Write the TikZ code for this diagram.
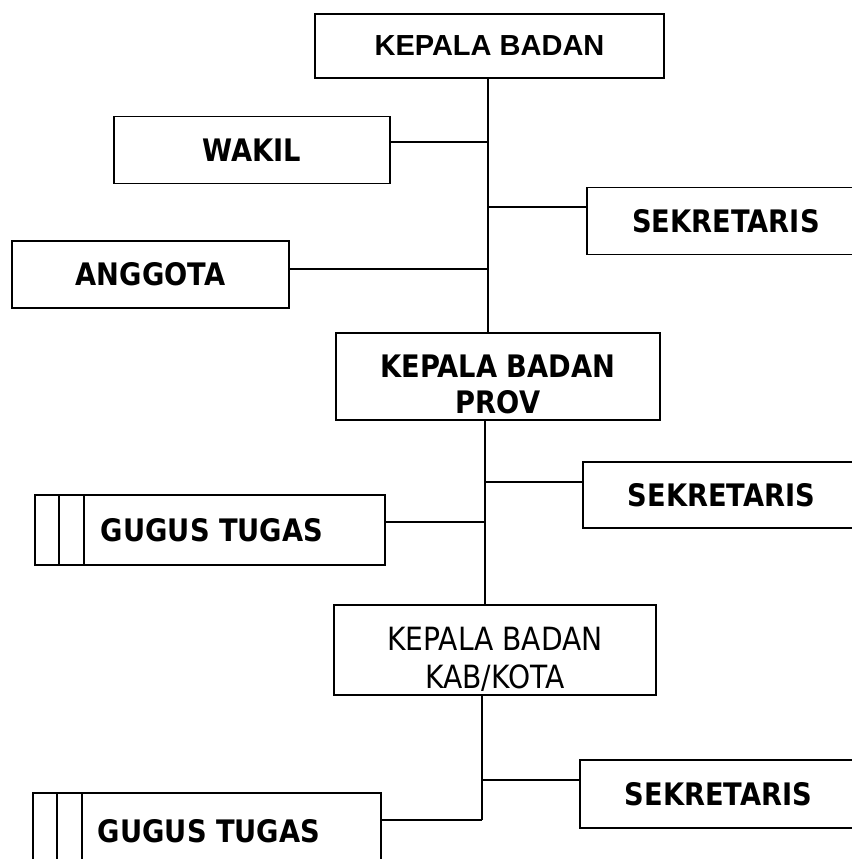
\documentclass[tikz,border=0pt]{standalone}
\usepackage{fontspec}
\setmainfont{DejaVu Sans}[FakeStretch=0.88]
\newfontfamily\headfont{Liberation Sans}
\usetikzlibrary{calc}
\tikzset{
  unit/.style      = {draw, line width=1.8pt, inner sep=0pt, align=center,
                      font=\bfseries\fontsize{31}{36}\selectfont},
  plainunit/.style = {unit, font=\fontsize{32}{38}\selectfont},
  headunit/.style  = {unit, font=\headfont\bfseries\fontsize{29}{34}\selectfont},
  wire/.style      = {line width=1.6pt},
}
\begin{document}
\begin{tikzpicture}[x=1pt,y=-1pt]
  \useasboundingbox (0,0) rectangle (851,859);
  % national level
  \node[headunit, minimum width=349, minimum height=64] (kb) at (489.5,46) {KEPALA BADAN};
  \node[unit, minimum width=276, minimum height=67] (wakil) at (252,150) {WAKIL};
  \node[unit, minimum width=278, minimum height=67] (sek1) at (726,221) {SEKRETARIS};
  \node[unit, minimum width=277, minimum height=67] (anggota) at (150.5,274.5) {ANGGOTA};
  % province
  \node[unit, minimum width=324, minimum height=87] (kbp) at (498,376.5) {\rule{0pt}{38pt}KEPALA BADAN\\PROV};
  \node[unit, minimum width=277, minimum height=66] (sek2) at (721.5,495) {SEKRETARIS};
  \node[unit, minimum width=350, minimum height=70] (gt1) at (210,530) {\hspace*{4pt}GUGUS TUGAS};
  % regency / city
  \node[plainunit, minimum width=322, minimum height=90] (kbk) at (495,650) {\rule{0pt}{42pt}KEPALA BADAN\\KAB/KOTA};
  \node[unit, minimum width=277, minimum height=68] (sek3) at (718.5,794) {SEKRETARIS};
  \node[unit, minimum width=348, minimum height=77] (gt2) at (207,831.5) {\hspace*{4pt}GUGUS TUGAS};
  \foreach \g in {gt1,gt2}{
    \draw[wire] ($(\g.north west)+(25,0)$) -- ($(\g.south west)+(25,0)$);
    \draw[wire] ($(\g.north west)+(50,0)$) -- ($(\g.south west)+(50,0)$);
  }
  % spine
  \coordinate (jw) at (488,142);
  \coordinate (js1) at (488,207);
  \coordinate (ja) at (488,269);
  \coordinate (js2) at (485,482);
  \coordinate (jg1) at (485,522);
  \coordinate (js3) at (482,780);
  \coordinate (jg2) at (482,820);
  \draw[wire] (kb.south -| jw) -- (kbp.north -| jw);
  \draw[wire] (kbp.south -| js2) -- (kbk.north -| js2);
  \draw[wire] (kbk.south -| js3) -- (jg2);
  \draw[wire] (jw) -- (jw -| wakil.east);
  \draw[wire] (js1) -- (js1 -| sek1.west);
  \draw[wire] (ja) -- (ja -| anggota.east);
  \draw[wire] (js2) -- (js2 -| sek2.west);
  \draw[wire] (jg1) -- (jg1 -| gt1.east);
  \draw[wire] (js3) -- (js3 -| sek3.west);
  \draw[wire] (jg2) -- (jg2 -| gt2.east);
\end{tikzpicture}
\end{document}
